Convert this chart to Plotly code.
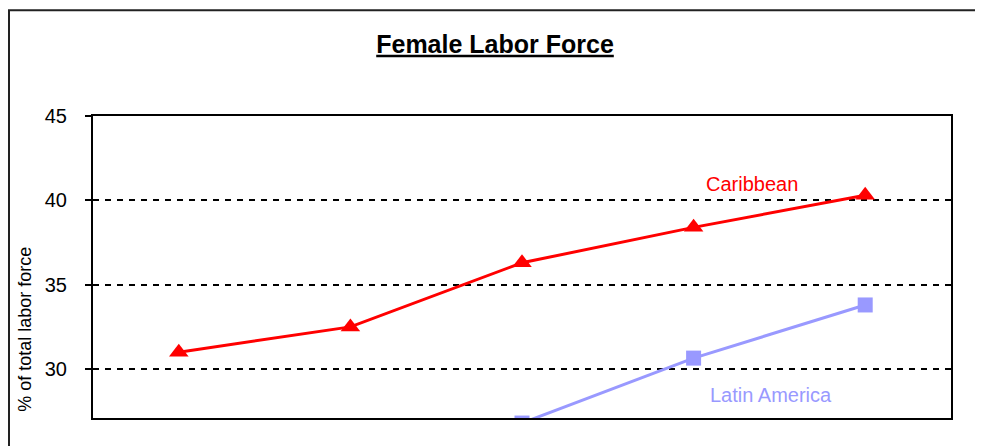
import plotly.graph_objects as go

categories = ["1980", "1985", "1990", "1995", "2000"]
caribbean = [31.0, 32.5, 36.3, 38.4, 40.3]
latin_america = [22.0, 24.0, 26.8, 30.65, 33.8]
y_ticks = [30, 35, 40, 45]
y_range = [27.1, 45]
x_range = [-0.5, 4.5]

fig = go.Figure()
fig.add_trace(go.Scatter(
    x=categories, y=caribbean, mode="lines+markers", name="Caribbean",
    line=dict(color="#ff0000", width=3),
    marker=dict(symbol="triangle-up", size=17, color="#ff0000"),
    cliponaxis=True,
))
fig.add_trace(go.Scatter(
    x=categories, y=latin_america, mode="lines+markers", name="Latin America",
    line=dict(color="#9999ff", width=3),
    marker=dict(symbol="square", size=15, color="#9999ff"),
    cliponaxis=True,
))
# invisible trace on overlay axis for inner tick marks
fig.add_trace(go.Scatter(x=categories, y=caribbean, yaxis="y2", mode="none",
                         showlegend=False, hoverinfo="skip"))

fig.add_annotation(x=3.34, y=40.95, text="Caribbean", showarrow=False,
                   font=dict(family="Arial", size=20, color="#ff0000"))
fig.add_annotation(x=3.45, y=28.46, text="Latin America", showarrow=False,
                   font=dict(family="Arial", size=20, color="#9999ff"))

# y-axis title
fig.add_annotation(xref="paper", yref="paper", x=-0.0793, y=0.295, textangle=-90,
                   text="% of total labor force", showarrow=False,
                   xanchor="center", yanchor="middle",
                   font=dict(family="Arial", size=18, color="#000"))

# outer chart frame
fig.add_shape(type="rect", xref="paper", yref="paper",
              x0=-0.0979, x1=1.2, y0=-0.5, y1=1.35,
              line=dict(color="#222", width=2), layer="below")

fig.update_layout(
    width=975, height=438,
    margin=dict(l=85, r=32, t=108, b=28),
    paper_bgcolor="#ffffff", plot_bgcolor="#ffffff",
    showlegend=False,
    title=dict(text="<b><u>Female Labor Force</u></b>", x=0.4995, y=0.9178,
               xanchor="center", yanchor="middle", xref="container", yref="container",
               font=dict(family="Arial", size=25, color="#000")),
    xaxis=dict(type="category", range=x_range, showticklabels=False, ticks="",
               showgrid=False, showline=True, mirror=True,
               linecolor="#000", linewidth=2, zeroline=False),
    yaxis=dict(range=y_range, tickvals=y_ticks, ticktext=[str(v) for v in y_ticks],
               showgrid=True, gridcolor="#000", gridwidth=1.5, griddash="6px,6px",
               showline=True, mirror=True, linecolor="#000", linewidth=2,
               ticks="outside", ticklen=6, tickwidth=1.5, tickcolor="#000",
               ticklabelstandoff=14, zeroline=False,
               tickfont=dict(family="Liberation Sans Narrow, Arial Narrow, Arial", size=20, color="#000")),
    yaxis2=dict(range=y_range, tickvals=y_ticks, overlaying="y", side="left",
                showticklabels=False, showgrid=False, ticks="inside", ticklen=6,
                tickwidth=1.5, tickcolor="#000", zeroline=False, showline=False),
)

fig.write_html("out.html")
